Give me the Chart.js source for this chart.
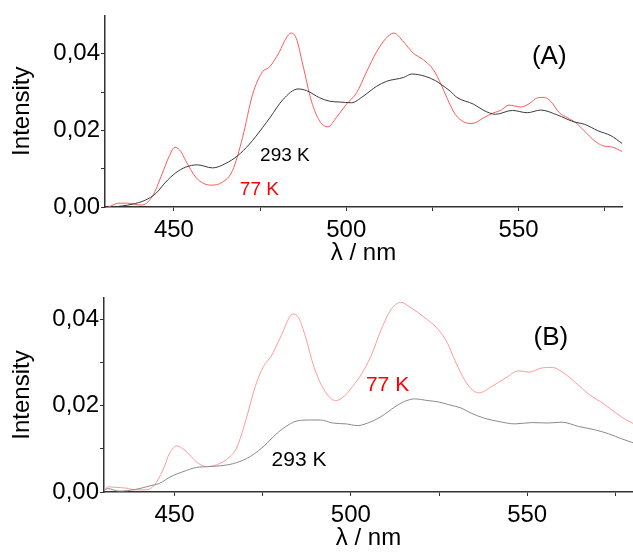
<!DOCTYPE html>
<html>
<head>
<meta charset="utf-8">
<title>Emission spectra</title>
<script src="https://cdn.jsdelivr.net/npm/chart.js@4.4.1/dist/chart.umd.min.js"></script>
<style>
  html, body { margin: 0; padding: 0; background: #fff; }
  .panel { position: absolute; left: 0; width: 633px; }
  #panelA { top: 0; height: 270px; }
  #panelB { top: 270px; height: 283px; }
</style>
</head>
<body>
<div class="panel" id="panelA"><canvas id="chartA"></canvas></div>
<div class="panel" id="panelB"><canvas id="chartB"></canvas></div>
<script>
/* ================= DATA ================= */
// shared axis ticks
const xTickValues = [450, 475, 500, 525, 550, 575];
const yTickValues = [0, 0.01, 0.02, 0.03, 0.04];

// (A) 77 K
const a77Nm = [431, 434, 436.5, 440.5, 443.7, 446.6, 448.5, 450.3, 452, 453.4, 456.3, 458.5, 460.7, 464.1, 467, 469.9,
  472.8, 475.7, 477.7, 480.6, 482.5, 484, 485.5, 487.4, 489.9, 492.3, 494.7, 497.1, 500, 503, 505.9, 508.8, 511.5,
  513.8, 516.6, 519.5, 522.4, 525.3, 527.5, 529.2, 531.6, 534.1, 536.5, 539.9, 542.8, 544.8, 547.2, 550.6, 553,
  555.5, 557.4, 559.3, 561.8, 564.2, 566.6, 569, 572, 574.4, 577.3, 580];
const a77Int = [0.0000, 0.0010, 0.0010, 0.0005, 0.0027, 0.0087, 0.0130, 0.0156, 0.0145, 0.0121, 0.0078, 0.0062, 0.0057,
  0.0065, 0.0095, 0.0181, 0.0293, 0.0353, 0.0365, 0.0405, 0.0440, 0.0454, 0.0440, 0.0371, 0.0276, 0.0224, 0.0209,
  0.0233, 0.0268, 0.0298, 0.0353, 0.0405, 0.0440, 0.0454, 0.0431, 0.0401, 0.0384, 0.0358, 0.0320, 0.0285, 0.0242,
  0.0222, 0.0218, 0.0233, 0.0246, 0.0252, 0.0266, 0.0261, 0.0269, 0.0285, 0.0286, 0.0276, 0.0246, 0.0233, 0.0220,
  0.0199, 0.0173, 0.0160, 0.0156, 0.0145];

// (A) 293 K
const a293Nm = [432.5, 437.8, 441.7, 444.7, 447.6, 450.5, 453.4, 456.8, 461.2, 465.1, 468.5, 471.9, 475.7, 478, 481.6,
  486, 488.4, 492.3, 495.2, 498.1, 501.5, 504.9, 508.8, 511.7, 516.6, 519, 522.9, 525.8, 527.5, 530.2, 532.1, 537,
  539.9, 543.3, 548.2, 552.5, 556.4, 561.3, 566.1, 569.1, 573, 576.8, 580];
const a293Int = [0.0000, 0.0007, 0.0018, 0.0035, 0.0065, 0.0089, 0.0104, 0.0110, 0.0102, 0.0114, 0.0134, 0.0164,
  0.0207, 0.0235, 0.0280, 0.0308, 0.0304, 0.0285, 0.0276, 0.0274, 0.0272, 0.0289, 0.0315, 0.0328, 0.0338, 0.0347,
  0.0341, 0.0330, 0.0320, 0.0302, 0.0286, 0.0268, 0.0252, 0.0242, 0.0252, 0.0246, 0.0253, 0.0240, 0.0222, 0.0216,
  0.0199, 0.0186, 0.0166];

// (B) 77 K
const b77Nm = [430.3, 431, 433.1, 436.2, 439, 441.9, 444.3, 446.7, 448.6, 450.7, 453.3, 456.2, 459, 461.9, 465.7, 467.6,
  470.5, 472.9, 475.2, 477.4, 480, 483.6, 485.2, 487.1, 489.5, 492.4, 495.7, 498.1, 500.5, 502.9, 505.7, 508.6,
  511.4, 514.1, 517.1, 521, 524.8, 527.4, 529.5, 533.3, 536.3, 540, 543.8, 547.6, 550.5, 554.3, 557.1, 560, 563.8,
  567.6, 571.4, 575.2, 578.1, 580.8];
const b77Int = [0.0005, 0.0012, 0.0011, 0.0009, 0.0005, 0.0005, 0.0016, 0.0051, 0.0090, 0.0107, 0.0094, 0.0070, 0.0059,
  0.0063, 0.0082, 0.0102, 0.0175, 0.0245, 0.0291, 0.0315, 0.0358, 0.0413, 0.0404, 0.0361, 0.0291, 0.0237, 0.0212,
  0.0222, 0.0245, 0.0272, 0.0315, 0.0377, 0.0423, 0.0440, 0.0427, 0.0404, 0.0377, 0.0345, 0.0305, 0.0247, 0.0230,
  0.0245, 0.0264, 0.0281, 0.0278, 0.0288, 0.0289, 0.0278, 0.0253, 0.0226, 0.0206, 0.0183, 0.0167, 0.0156];

// (B) 293 K
const b293Nm = [430.3, 431, 434.3, 439, 442.9, 445.7, 449, 452.4, 456.2, 460, 465.7, 469.5, 472.9, 476.2, 478, 480.9,
  484.8, 488.6, 491.4, 494.8, 498.6, 501.9, 504.8, 508.6, 512.4, 515.2, 518.1, 521.9, 524.8, 528, 531.2, 534.1,
  537.9, 541.7, 546.5, 551.3, 556, 559.8, 564.6, 569.3, 573.1, 576.9, 580.8];
const b293Int = [0.0005, 0.0008, 0.0002, 0.0006, 0.0014, 0.0020, 0.0036, 0.0047, 0.0057, 0.0059, 0.0064, 0.0074,
  0.0090, 0.0113, 0.0128, 0.0148, 0.0165, 0.0167, 0.0167, 0.0160, 0.0158, 0.0154, 0.0160, 0.0175, 0.0197, 0.0210,
  0.0216, 0.0212, 0.0209, 0.0202, 0.0195, 0.0183, 0.0171, 0.0164, 0.0158, 0.0161, 0.0160, 0.0162, 0.0152, 0.0144,
  0.0135, 0.0123, 0.0112];

// in-plot labels, placed in data units (nm, intensity)
const notesA = [
  { text: '293 K', nm: 482.2, val: 0.0134, color: '#000', size: 19 },
  { text: '77 K', nm: 474.8, val: 0.0044, color: '#ff0000', size: 19 },
  { text: '(A)', nm: 558.9, val: 0.0392, color: '#000', size: 26 }
];
const notesB = [
  { text: '293 K', nm: 485.3, val: 0.0074, color: '#000', size: 21 },
  { text: '77 K', nm: 510.4, val: 0.0247, color: '#ff0000', size: 21 },
  { text: '(B)', nm: 556.7, val: 0.0358, color: '#000', size: 26 }
];

/* ================= HELPERS ================= */
const FONT = "'Liberation Sans', Arial, sans-serif";

function toPoints(nm, vals) {
  return nm.map((x, i) => ({ x: x, y: vals[i] }));
}

// draws the temperature labels and panel letter over the plot
const notesPlugin = {
  id: 'notes',
  afterDatasetsDraw(chart, args, opts) {
    const { ctx, scales } = chart;
    ctx.save();
    ctx.textAlign = 'center';
    ctx.textBaseline = 'middle';
    (opts.items || []).forEach(n => {
      ctx.font = n.size + 'px ' + FONT;
      ctx.fillStyle = n.color;
      ctx.fillText(n.text, scales.x.getPixelForValue(n.nm), scales.y.getPixelForValue(n.val));
    });
    ctx.restore();
  }
};

function spectrumChart(canvasId, p) {
  const axisGrid = { display: true, drawOnChartArea: false, drawTicks: true, tickLength: 4, color: '#333', lineWidth: 1 };
  const axisBorder = { display: true, color: '#333', width: 1.5 };

  return new Chart(document.getElementById(canvasId), {
    type: 'line',
    data: {
      datasets: [
        { data: toPoints(p.hotNm, p.hotInt), borderColor: p.hotColor, borderWidth: 1 },
        { data: toPoints(p.coldNm, p.coldInt), borderColor: p.coldColor, borderWidth: 1 }
      ]
    },
    options: {
      responsive: true,
      maintainAspectRatio: false,
      animation: false,
      events: [],
      layout: { padding: p.padding },
      elements: {
        point: { radius: 0 },
        line: { cubicInterpolationMode: 'monotone', fill: false }
      },
      plugins: {
        legend: { display: false },
        tooltip: { enabled: false },
        notes: { items: p.notes }
      },
      scales: {
        x: {
          type: 'linear',
          min: 430,
          max: 580,
          afterBuildTicks: s => { s.ticks = xTickValues.map(v => ({ value: v })); },
          afterFit: s => { s.height = p.xAxisHeight; },
          grid: axisGrid,
          border: axisBorder,
          ticks: {
            color: '#000',
            font: { family: FONT, size: 24 },
            padding: 5,
            maxRotation: 0,
            autoSkip: false,
            callback: v => (v % 50 === 0 ? String(v) : '')
          },
          title: {
            display: true,
            text: 'λ / nm',
            color: '#000',
            font: { family: FONT, size: 24 },
            padding: { top: 0, bottom: p.xTitlePad }
          }
        },
        y: {
          min: 0,
          max: p.yMax,
          afterBuildTicks: s => { s.ticks = yTickValues.map(v => ({ value: v })); },
          afterFit: s => { s.width = p.yAxisWidth; },
          grid: axisGrid,
          border: axisBorder,
          ticks: {
            color: '#000',
            font: { family: FONT, size: 24 },
            padding: 1,
            autoSkip: false,
            callback: v => (Math.round(v * 100) % 2 === 0 ? v.toFixed(2).replace('.', ',') : '')
          },
          title: {
            display: true,
            text: 'Intensity',
            color: '#000',
            font: { family: FONT, size: 24 },
            padding: { top: 8, bottom: 0 }
          }
        }
      }
    },
    plugins: [notesPlugin]
  });
}

/* ================= INITIALIZATION ================= */
spectrumChart('chartA', {
  hotNm: a293Nm, hotInt: a293Int, hotColor: '#3a3a3a',
  coldNm: a77Nm, coldInt: a77Int, coldColor: '#ff5a5a',
  yMax: 0.05,
  padding: { top: 14, right: 11, left: 0, bottom: 0 },
  yAxisWidth: 105,
  xAxisHeight: 63,
  xTitlePad: 2,
  notes: notesA
});

spectrumChart('chartB', {
  hotNm: b293Nm, hotInt: b293Int, hotColor: '#8a8a8a',
  coldNm: b77Nm, coldInt: b77Int, coldColor: '#ff9a9a',
  yMax: 0.045,
  padding: { top: 28, right: 0, left: 0, bottom: 0 },
  yAxisWidth: 104,
  xAxisHeight: 61,
  xTitlePad: 0,
  notes: notesB
});
</script>
</body>
</html>
